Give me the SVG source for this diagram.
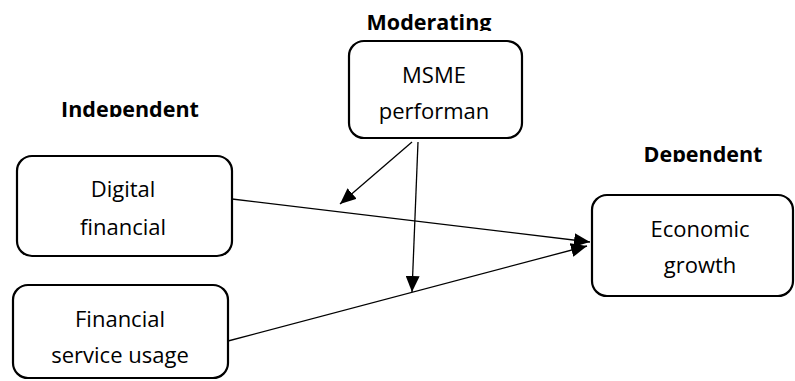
<svg xmlns="http://www.w3.org/2000/svg" width="795" height="381" viewBox="0 0 795 381">
<style>
.box{fill:#fff;stroke:#000;stroke-width:2.2}
.t{font-family:"Open Sans","Noto Sans","Liberation Sans",sans-serif;font-size:22px;fill:#000;text-anchor:middle}
.h{font-family:"Open Sans","Noto Sans","Liberation Sans",sans-serif;font-size:21.5px;font-weight:bold;fill:#000;text-anchor:middle}
.c{stroke:#000;stroke-width:1.3;fill:none;marker-end:url(#ah)}
</style>
<defs>
<marker id="ah" markerUnits="userSpaceOnUse" markerWidth="18" markerHeight="14" refX="16" refY="7" orient="auto">
<path d="M0,0 L16,7 L0,14 Z" fill="#000"/>
</marker>
<clipPath id="clipM"><rect x="300" y="0" width="260" height="31"/></clipPath>
<clipPath id="clipI"><rect x="0" y="80" width="260" height="37"/></clipPath>
<clipPath id="clipD"><rect x="600" y="140" width="195" height="22"/></clipPath>
</defs>
<g id="labels">
<text class="h" x="429" y="30" clip-path="url(#clipM)">Moderating</text>
<text class="h" x="130" y="117" clip-path="url(#clipI)">Independent</text>
<text class="h" x="703" y="162" clip-path="url(#clipD)">Dependent</text>
</g>
<g id="connectors">
<line class="c" x1="232" y1="199" x2="590" y2="242"/>
<line class="c" x1="228" y1="341" x2="587" y2="246"/>
<line class="c" x1="412" y1="142" x2="340" y2="204"/>
<line class="c" x1="418" y1="142" x2="412" y2="292"/>
</g>
<g id="msme">
<rect class="box" x="349" y="41" width="173" height="97" rx="15"/>
<text class="t" x="434" y="83">MSME</text>
<text class="t" x="434" y="119">performan</text>
</g>
<g id="digital">
<rect class="box" x="17" y="156" width="215" height="100" rx="15"/>
<text class="t" x="123" y="197">Digital</text>
<text class="t" x="123" y="235">financial</text>
</g>
<g id="usage">
<rect class="box" x="13" y="285" width="215" height="93" rx="15"/>
<text class="t" x="120" y="327">Financial</text>
<text class="t" x="120" y="363">service usage</text>
</g>
<g id="growth">
<rect class="box" x="592" y="195" width="201" height="101" rx="15"/>
<text class="t" x="700" y="237">Economic</text>
<text class="t" x="700" y="273">growth</text>
</g>
</svg>
